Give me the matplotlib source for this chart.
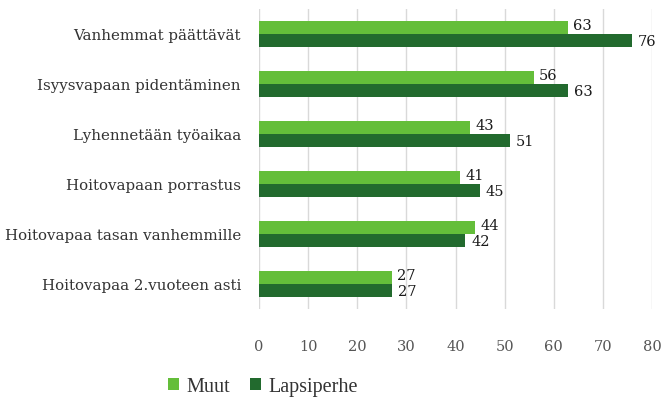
import matplotlib.pyplot as plt
import numpy as np

# data (top to bottom)
categories = ["Vanhemmat päättävät", "Isyysvapaan pidentäminen", "Lyhennetään työaikaa",
              "Hoitovapaan porrastus", "Hoitovapaa tasan vanhemmille", "Hoitovapaa 2.vuoteen asti"]
muut = [63, 56, 43, 41, 44, 27]
lapsiperhe = [76, 63, 51, 45, 42, 27]
xticks = [0, 10, 20, 30, 40, 50, 60, 70, 80]

light = "#64BE3A"
dark = "#226A2E"

plt.rcParams['font.family'] = ['DejaVu Serif']

fig = plt.figure(figsize=(6.65, 4.11), dpi=100)
ax = fig.add_axes([259 / 665, 1 - 309 / 411, (652 - 259) / 665, 300 / 411])

y = np.arange(len(categories))
h = 0.26
ax.barh(y - h / 2, muut, height=h, color=light, label="Muut", zorder=3)
ax.barh(y + h / 2, lapsiperhe, height=h, color=dark, label="Lapsiperhe", zorder=3)

for i in range(len(categories)):
    ax.text(muut[i] + 1.0, y[i] - h / 2 - 0.03, str(muut[i]), va="center", ha="left",
            fontsize=10.5, color="#1a1a1a")
    ax.text(lapsiperhe[i] + 1.2, y[i] + h / 2 + 0.03, str(lapsiperhe[i]), va="center", ha="left",
            fontsize=10.5, color="#1a1a1a")

ax.set_ylim(len(categories) - 0.5, -0.5)
ax.set_xlim(0, 80)
ax.set_yticks(y)
ax.set_yticklabels(categories, fontsize=10.8, color="#333333")
ax.set_xticks(xticks)
ax.set_xticklabels([str(t) for t in xticks], fontsize=10.5, color="#555555")
ax.tick_params(axis="both", length=0)
ax.tick_params(axis="x", pad=22)
ax.tick_params(axis="y", pad=13)
ax.grid(axis="x", color="#d9d9d9", linewidth=1, zorder=0)
for s in ax.spines.values():
    s.set_visible(False)

fig.legend(loc="center", bbox_to_anchor=(263 / 665, 1 - 387 / 411), ncol=2, frameon=False,
           prop={"family": "Liberation Serif", "size": 14.5}, handlelength=0.55, handleheight=0.55,
           handletextpad=0.35, columnspacing=1.0, labelcolor="#333333")

fig.savefig("out.png", dpi=100)
